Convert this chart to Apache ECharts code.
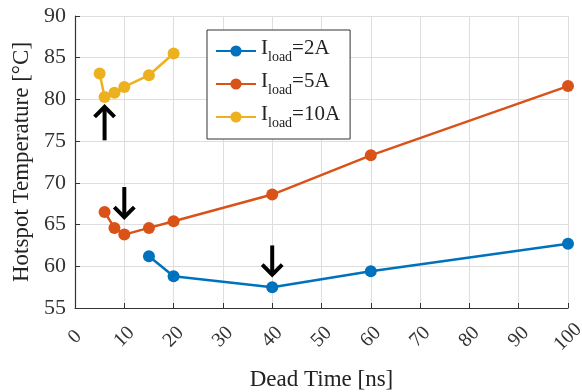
<!DOCTYPE html>
<html><head><meta charset="utf-8">
<script src="https://cdn.jsdelivr.net/npm/echarts@6/dist/echarts.min.js"></script>
<style>html,body{margin:0;padding:0;background:#fff}#c{width:582px;height:392px}</style>
</head><body><div id="c"></div>
<script>
const seriesNames = ['2A', '5A', '10A'];
const x2A = [15, 20, 40, 60, 100];
const y2A = [61.2, 58.8, 57.5, 59.4, 62.7];
const x5A = [6, 8, 10, 15, 20, 40, 60, 100];
const y5A = [66.5, 64.6, 63.8, 64.6, 65.4, 68.6, 73.3, 81.6];
const x10A = [5, 6, 8, 10, 15, 20];
const y10A = [83.1, 80.3, 80.8, 81.5, 82.9, 85.5];
// arrows: x, tail y, tip y
const arrowX = [6, 10, 40];
const arrowTail = [75.1, 69.5, 62.5];
const arrowTip = [79.1, 65.9, 59.0];
const colors = ['#0072BD', '#D95319', '#EDB120'];
const F = '"Liberation Serif", "DejaVu Serif", serif';

const zip = (xs, ys) => xs.map((x, i) => [x, ys[i]]);
const mk = (name, xs, ys, c) => ({
  name: 'I_load=' + name, type: 'line', data: zip(xs, ys),
  symbol: 'circle', symbolSize: 12, color: c,
  lineStyle: { width: 2.5, color: c }, itemStyle: { color: c }, z: 3
});

const chart = echarts.init(document.getElementById('c'));
chart.setOption({
  animation: false,
  grid: { left: 75, right: 14, top: 16, bottom: 84, containLabel: false, outerBoundsMode: 'none' },
  xAxis: {
    type: 'value', min: 0, max: 100, interval: 10,
    name: 'Dead Time [ns]', nameLocation: 'middle', nameGap: 60,
    nameTextStyle: { fontFamily: F, fontSize: 23, color: '#222' },
    axisLine: { show: true, lineStyle: { color: '#333', width: 1.2 } },
    axisTick: { show: true, inside: true, length: 5, lineStyle: { color: '#333' } },
    axisLabel: { rotate: 45, align: 'center', verticalAlign: 'middle', fontFamily: F, fontSize: 20, color: '#333', margin: 29 },
    splitLine: { show: true, lineStyle: { color: '#dedede', width: 1 } }
  },
  yAxis: {
    type: 'value', min: 55, max: 90, interval: 5,
    name: 'Hotspot Temperature [°C]', nameLocation: 'middle', nameGap: 42,
    nameTextStyle: { fontFamily: F, fontSize: 23, color: '#222' },
    axisLine: { show: true, lineStyle: { color: '#333', width: 1.2 } },
    axisTick: { show: true, inside: true, length: 5, lineStyle: { color: '#333' } },
    axisLabel: { fontFamily: F, fontSize: 22, color: '#333', margin: 9 },
    splitLine: { show: true, lineStyle: { color: '#dedede', width: 1 } }
  },
  legend: {
    data: seriesNames.map(n => 'I_load=' + n),
    orient: 'vertical', left: 207, top: 30,
    backgroundColor: '#fff', borderColor: '#333', borderWidth: 1,
    padding: [8, 10, 9, 8], itemGap: 7, itemWidth: 40, itemHeight: 14,
    formatter: n => '{a|I}{s|load}{a|' + n.replace('I_load', '') + '}',
    textStyle: {
      rich: {
        a: { fontFamily: F, fontSize: 21, color: '#222', lineHeight: 26, verticalAlign: 'top' },
        s: { fontFamily: F, fontSize: 14, color: '#222', lineHeight: 26, padding: [12, 0, 0, 0], verticalAlign: 'top' }
      }
    }
  },
  series: [
    mk(seriesNames[0], x2A, y2A, colors[0]),
    mk(seriesNames[1], x5A, y5A, colors[1]),
    mk(seriesNames[2], x10A, y10A, colors[2]),
    {
      type: 'custom', name: 'arrows', z: 5,
      data: arrowX.map((x, i) => [x, arrowTail[i], arrowTip[i]]),
      renderItem: (params, api) => {
        const p0 = api.coord([api.value(0), api.value(1)]);
        const p1 = api.coord([api.value(0), api.value(2)]);
        const d = p1[1] < p0[1] ? 1 : -1;
        const h = 10;
        const st = { stroke: '#000', lineWidth: 4, fill: 'none' };
        return {
          type: 'group', children: [
            { type: 'line', shape: { x1: p0[0], y1: p0[1], x2: p1[0], y2: p1[1] }, style: st },
            { type: 'polyline', shape: { points: [[p1[0] - h, p1[1] + d * h], [p1[0], p1[1]], [p1[0] + h, p1[1] + d * h]] }, style: st }
          ]
        };
      }
    }
  ]
});
</script></body></html>
